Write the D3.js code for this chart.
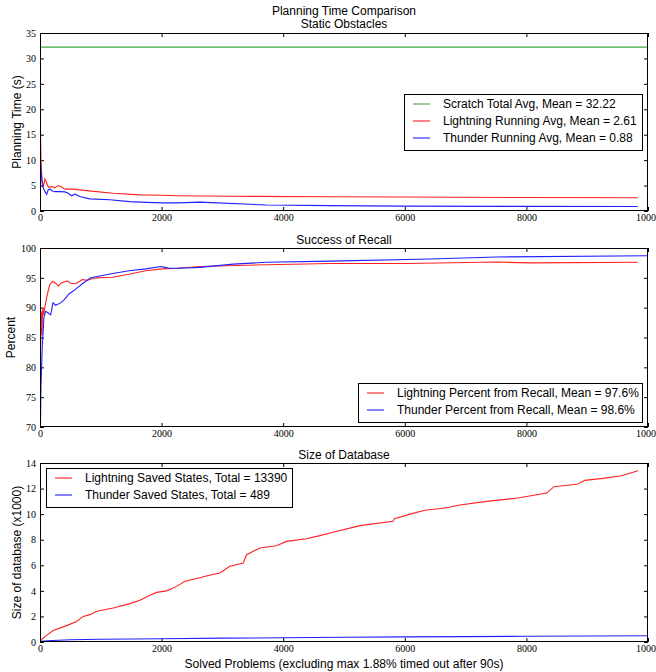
<!DOCTYPE html>
<html>
<head>
<meta charset="utf-8">
<script src="https://cdn.jsdelivr.net/npm/d3@7"></script>
<style>
  body { margin: 0; background: #fff; }
  .tick text { font-family: "Liberation Serif", serif; font-size: 10px; fill: #000; }
  .domain { display: none; }
  .tick line { stroke: #000; }
  text { font-family: "Liberation Sans", Arial, sans-serif; }
</style>
</head>
<body>
<div id="chart"></div>
<script>
// planning time (s), running averages
var scratchX = [0, 10000];
var scratchY = [32.22, 32.22];
var lightningTimeX = [0, 5, 16, 33, 55, 82, 110, 137, 191, 246, 300, 355, 410, 546, 765, 1201, 1638, 2000, 2270, 3178, 4767, 6000, 8000, 9830];
var lightningTimeY = [28, 18, 10.1, 6.1, 4.8, 6.3, 5.5, 4.7, 4.8, 4.6, 5.0, 4.7, 4.3, 4.3, 4.0, 3.5, 3.17, 3.1, 3.0, 2.9, 2.8, 2.75, 2.65, 2.61];
var thunderTimeX = [0, 8, 27, 44, 82, 110, 137, 164, 191, 246, 328, 410, 464, 519, 573, 655, 819, 1147, 1474, 1747, 2020, 2270, 2630, 3726, 4767, 6000, 8000, 9830];
var thunderTimeY = [5.5, 9.6, 6.5, 4.8, 3.8, 3.3, 4.2, 4.35, 4.0, 3.8, 3.8, 3.76, 3.5, 3.0, 3.3, 2.84, 2.38, 2.2, 1.85, 1.7, 1.6, 1.6, 1.75, 1.18, 1.05, 0.95, 0.9, 0.88];

// success of recall (%)
var lightningRecallX = [0, 5, 11, 16, 22, 33, 44, 60, 82, 120, 159, 203, 258, 302, 340, 395, 450, 505, 587, 697, 780, 917, 1190, 1464, 1738, 2011, 2257, 2630, 3726, 4767, 6030, 7510, 8060, 9830];
var lightningRecallY = [74.8, 88, 83.8, 88.5, 89.4, 85.4, 90, 88.8, 90.2, 92.2, 93.8, 94.4, 94.1, 93.6, 94.1, 94.3, 94.5, 94.1, 94.0, 94.7, 94.6, 95.0, 95.1, 95.6, 96.2, 96.5, 96.6, 96.9, 97.2, 97.4, 97.4, 97.65, 97.5, 97.6];
var thunderRecallX = [0, 8, 16, 38, 66, 93, 137, 175, 214, 258, 340, 395, 477, 587, 697, 834, 1026, 1245, 1464, 1738, 1985, 2040, 2120, 2285, 2630, 3178, 3726, 4767, 6414, 7510, 9990];
var thunderRecallY = [70, 70.5, 77, 83.8, 88.5, 89.4, 89.1, 88.8, 90.8, 90.4, 90.8, 91.3, 92.3, 93.1, 94.0, 95.0, 95.4, 95.8, 96.2, 96.5, 96.9, 96.8, 96.6, 96.6, 96.75, 97.3, 97.6, 97.8, 98.15, 98.5, 98.7];

// size of database (x1000)
var lightningDbX = [0, 100, 219, 438, 603, 712, 822, 932, 1205, 1479, 1644, 1808, 1918, 2082, 2247, 2384, 2630, 2767, 2959, 3123, 3342, 3397, 3616, 3890, 4055, 4384, 4603, 4767, 5263, 5806, 5830, 6086, 6332, 6688, 6880, 7346, 7862, 8333, 8454, 8849, 8958, 9260, 9562, 9836];
var lightningDbY = [0.1, 0.5, 0.9, 1.28, 1.6, 2.0, 2.14, 2.4, 2.66, 3.0, 3.26, 3.65, 3.88, 4.0, 4.35, 4.75, 5.03, 5.2, 5.4, 5.92, 6.18, 6.83, 7.35, 7.53, 7.87, 8.08, 8.32, 8.52, 9.1, 9.44, 9.65, 10.0, 10.3, 10.5, 10.7, 11.0, 11.26, 11.65, 12.15, 12.36, 12.64, 12.8, 13.0, 13.39];
var thunderDbX = [0, 200, 500, 1000, 2000, 3000, 4000, 5000, 6000, 7000, 8000, 9000, 10000];
var thunderDbY = [0.05, 0.12, 0.18, 0.21, 0.26, 0.3, 0.33, 0.37, 0.4, 0.42, 0.45, 0.47, 0.489];

var xTicks = [0, 2000, 4000, 6000, 8000, 10000];

var width = 656, height = 672;
var left = 40, right = 648;
var green = "#3fa83f", red = "#ff2020", blue = "#2020ff";

var svg = d3.select("#chart")
            .append("svg")
              .attr("width", width)
              .attr("height", height);

var xScale = d3.scaleLinear().domain([0, 10000]).range([left, right]);

function zip(xs, ys) {
  return xs.map((x, i) => [x, ys[i]]);
}

function drawPanel(p) {
  var yScale = d3.scaleLinear().domain(p.yDomain).range([p.bottom, p.top]);
  var g = svg.append("g");

  g.append("g")
   .attr("transform", "translate(0," + p.bottom + ")")
   .call(d3.axisBottom(xScale).tickValues(xTicks).tickFormat(d3.format("d"))
           .tickSizeInner(-4).tickSizeOuter(0).tickPadding(3));
  g.append("g")
   .attr("transform", "translate(0," + p.top + ")")
   .call(d3.axisTop(xScale).tickValues(xTicks).tickFormat("")
           .tickSizeInner(-4).tickSizeOuter(0));
  g.append("g")
   .attr("transform", "translate(" + left + ",0)")
   .call(d3.axisLeft(yScale).tickValues(p.yTicks).tickFormat(d3.format("d"))
           .tickSizeInner(-4).tickSizeOuter(0).tickPadding(4));
  g.append("g")
   .attr("transform", "translate(" + right + ",0)")
   .call(d3.axisRight(yScale).tickValues(p.yTicks).tickFormat("")
           .tickSizeInner(-4).tickSizeOuter(0));

  var line = d3.line().x(d => xScale(d[0])).y(d => yScale(d[1]));
  var clip = "clip" + p.top;
  g.append("clipPath").attr("id", clip)
   .append("rect")
     .attr("x", left).attr("y", p.top)
     .attr("width", right - left).attr("height", p.bottom - p.top);

  g.append("g")
   .attr("clip-path", "url(#" + clip + ")")
   .selectAll("path")
   .data(p.series)
   .enter()
   .append("path")
     .attr("d", s => line(zip(s.x, s.y)))
     .attr("fill", "none")
     .attr("stroke", s => s.color)
     .attr("stroke-width", 1.1);

  g.append("rect")
   .attr("x", left + 0.5).attr("y", p.top + 0.5)
   .attr("width", right - left - 1).attr("height", p.bottom - p.top - 1)
   .attr("fill", "none").attr("stroke", "#000").attr("stroke-width", 1);

  p.titles.forEach(function(t, i) {
    g.append("text")
     .attr("x", (left + right) / 2)
     .attr("y", p.titleY + i * 13)
     .attr("text-anchor", "middle")
     .attr("font-size", 12)
     .text(t);
  });

  g.append("text")
   .attr("transform", "translate(" + p.ylabelX + "," + (p.top + p.bottom) / 2 + ") rotate(-90)")
   .attr("text-anchor", "middle")
   .attr("dy", "0.35em")
   .attr("font-size", 12)
   .text(p.ylabel);

  // legend
  var lg = p.legend;
  var rowH = 17;
  g.append("rect")
   .attr("x", lg.x + 0.5).attr("y", lg.y + 0.5)
   .attr("width", lg.w).attr("height", p.series.length * rowH + 5)
   .attr("fill", "#fff").attr("stroke", "#000");
  var rows = g.selectAll(".row" + p.top)
              .data(p.series)
              .enter()
              .append("g")
                .attr("transform", (s, i) => "translate(" + lg.x + "," + (lg.y + 10 + i * rowH) + ")");
  rows.append("line")
      .attr("x1", 9).attr("x2", 26)
      .attr("stroke", s => s.color).attr("stroke-width", 1.1);
  rows.append("text")
      .attr("x", 39).attr("dy", "0.35em")
      .attr("font-size", 12)
      .text(s => s.label);
}

drawPanel({
  top: 33, bottom: 211, yDomain: [0, 35], yTicks: d3.range(0, 36, 5),
  titles: ["Planning Time Comparison", "Static Obstacles"], titleY: 15,
  ylabel: "Planning Time (s)", ylabelX: 17,
  legend: { x: 404, y: 94, w: 238 },
  series: [
    { x: scratchX, y: scratchY, color: green, label: "Scratch Total Avg, Mean = 32.22" },
    { x: lightningTimeX, y: lightningTimeY, color: red, label: "Lightning Running Avg, Mean = 2.61" },
    { x: thunderTimeX, y: thunderTimeY, color: blue, label: "Thunder Running Avg, Mean = 0.88" }
  ]
});

drawPanel({
  top: 248, bottom: 427, yDomain: [70, 100], yTicks: d3.range(70, 101, 5),
  titles: ["Success of Recall"], titleY: 244,
  ylabel: "Percent", ylabelX: 11,
  legend: { x: 358, y: 383, w: 284 },
  series: [
    { x: lightningRecallX, y: lightningRecallY, color: red, label: "Lightning Percent from Recall, Mean = 97.6%" },
    { x: thunderRecallX, y: thunderRecallY, color: blue, label: "Thunder Percent from Recall, Mean = 98.6%" }
  ]
});

drawPanel({
  top: 463, bottom: 642, yDomain: [0, 14], yTicks: d3.range(0, 15, 2),
  titles: ["Size of Database"], titleY: 459,
  ylabel: "Size of database (x1000)", ylabelX: 17,
  legend: { x: 46, y: 468, w: 246 },
  series: [
    { x: lightningDbX, y: lightningDbY, color: red, label: "Lightning Saved States, Total = 13390" },
    { x: thunderDbX, y: thunderDbY, color: blue, label: "Thunder Saved States, Total = 489" }
  ]
});

svg.append("text")
   .attr("x", (left + right) / 2)
   .attr("y", 668)
   .attr("text-anchor", "middle")
   .attr("font-size", 12)
   .text("Solved Problems (excluding max 1.88% timed out after 90s)");
</script>
</body>
</html>
